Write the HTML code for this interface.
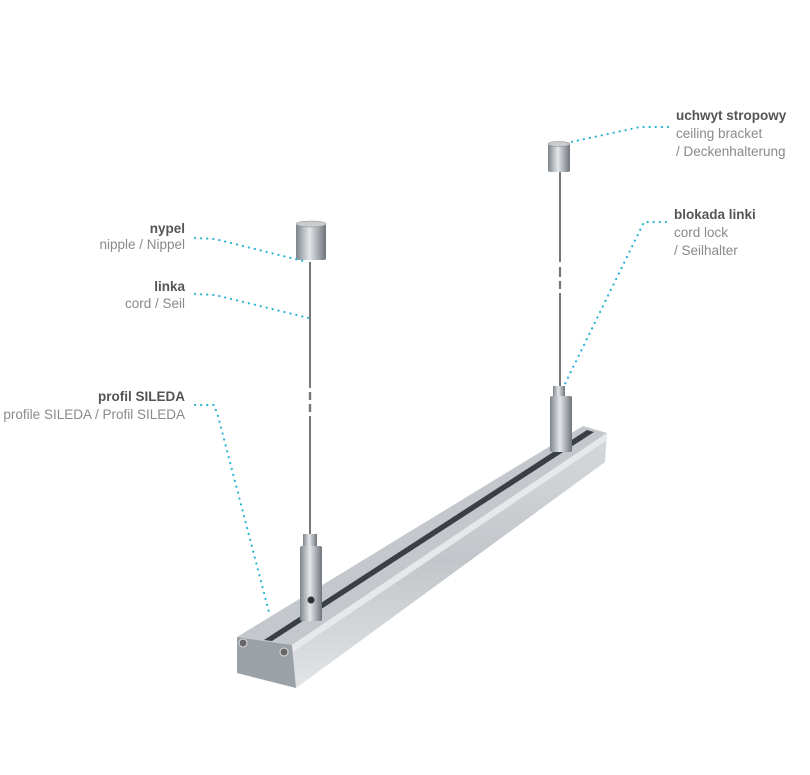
<!DOCTYPE html>
<html><head><meta charset="utf-8"><style>
html,body{margin:0;padding:0;background:#fff;}
svg{display:block;}
text{font-family:"Liberation Sans","DejaVu Sans",sans-serif;font-size:13.5px;}
.b{font-weight:bold;fill:#555;}
.n{fill:#8a8a8a;}
.d{fill:none;stroke:#2cb4d2;stroke-width:2.2;stroke-dasharray:0.1 6;stroke-linecap:round;}
</style></head><body>
<svg width="810" height="775" viewBox="0 0 810 775" xmlns="http://www.w3.org/2000/svg">
<defs>
<linearGradient id="cyl" x1="0" x2="1"><stop offset="0" stop-color="#7d858c"/><stop offset="0.45" stop-color="#e4e7ea"/><stop offset="1" stop-color="#6d747a"/></linearGradient>
<linearGradient id="side" x1="0" y1="0" x2="0" y2="1"><stop offset="0" stop-color="#d6d9dc"/><stop offset="0.5" stop-color="#c2c6ca"/><stop offset="1" stop-color="#e2e4e6"/></linearGradient>
</defs>
<line x1="310" y1="262" x2="310" y2="388" stroke="#777" stroke-width="2"/>
<line x1="310" y1="392" x2="310" y2="400" stroke="#777" stroke-width="2.4"/>
<line x1="310" y1="404" x2="310" y2="412" stroke="#777" stroke-width="2.4"/>
<line x1="310" y1="416" x2="310" y2="540" stroke="#777" stroke-width="2"/>
<line x1="560" y1="172" x2="560" y2="262" stroke="#777" stroke-width="2"/>
<line x1="560" y1="267" x2="560" y2="277" stroke="#777" stroke-width="2.2"/>
<line x1="560" y1="281" x2="560" y2="289" stroke="#777" stroke-width="2.2"/>
<line x1="560" y1="293" x2="560" y2="392" stroke="#777" stroke-width="2"/>
<rect x="296" y="224" width="30" height="36" rx="2" fill="url(#cyl)"/>
<ellipse cx="311" cy="224" rx="15" ry="3" fill="#c9cdd0" stroke="#888" stroke-width="0.6"/>
<rect x="548" y="144" width="22" height="28" rx="2" fill="url(#cyl)"/>
<ellipse cx="559" cy="144" rx="11" ry="2.5" fill="#c9cdd0" stroke="#888" stroke-width="0.6"/>
<polygon points="237,637 292,645 607,433 583,426" fill="#c4c8cc"/>
<polygon points="292,645 607,433 605,462 296,688" fill="url(#side)"/>
<polygon points="237,637 292,645 296,688 237,673" fill="#9aa1a7"/>
<polygon points="292,645 607,433 607,440 293,652" fill="#e6e8ea"/>
<polygon points="264,640 272,641 594,432 587,430" fill="#3a3f44"/>
<circle cx="243" cy="643" r="4" fill="#666" stroke="#ddd"/>
<circle cx="284" cy="652" r="4" fill="#666" stroke="#ddd"/>
<rect x="303" y="534" width="14" height="14" fill="url(#cyl)"/>
<rect x="300" y="546" width="22" height="75" rx="2" fill="url(#cyl)"/>
<circle cx="311" cy="600" r="3.5" fill="#333"/>
<rect x="553" y="386" width="12" height="12" fill="url(#cyl)"/>
<rect x="550" y="396" width="22" height="56" rx="2" fill="url(#cyl)"/>
<path class="d" d="M195,238 L215,239 L303,261"/>
<path class="d" d="M195,294 L215,295 L309,318"/>
<path class="d" d="M195,405 L214,405 L218,416 L270,616"/>
<path class="d" d="M668,127 L640,127 L571,142"/>
<path class="d" d="M666,222 L644,222 L563,388"/>
<text class="b" x="185" y="233" text-anchor="end">nypel</text>
<text class="n" x="185" y="249" text-anchor="end">nipple / Nippel</text>
<text class="b" x="185" y="291" text-anchor="end">linka</text>
<text class="n" x="185" y="308" text-anchor="end">cord / Seil</text>
<text class="b" x="185" y="401" text-anchor="end">profil SILEDA</text>
<text class="n" x="185" y="419" text-anchor="end">profile SILEDA / Profil SILEDA</text>
<text class="b" x="676" y="120">uchwyt stropowy</text>
<text class="n" x="676" y="138">ceiling bracket</text>
<text class="n" x="676" y="156">/ Deckenhalterung</text>
<text class="b" x="674" y="219">blokada linki</text>
<text class="n" x="674" y="237">cord lock</text>
<text class="n" x="674" y="255">/ Seilhalter</text>
</svg>
</body></html>
